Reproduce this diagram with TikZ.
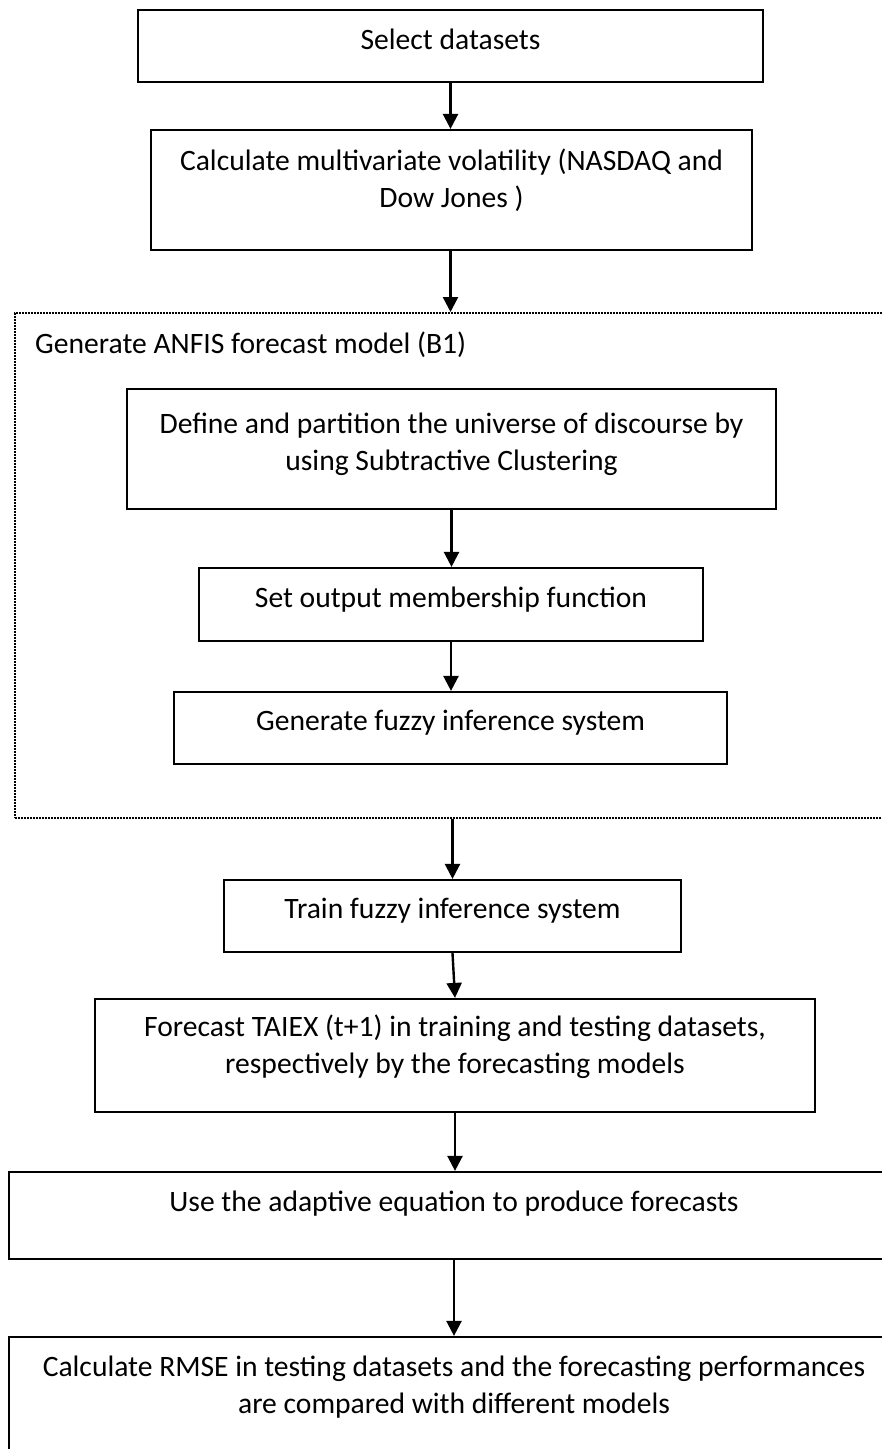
\documentclass[tikz,border=0pt]{standalone}
\usepackage{fontspec}
\setmainfont{Carlito}
\usetikzlibrary{arrows.meta}

\tikzset{
  stepbox/.style={draw, line width=2.2pt, rectangle, align=center,
    inner sep=0pt, text height=20pt, font=\fontsize{29.6}{37}\selectfont},
  twoline/.style={text height=57pt},
  groupbox/.style={draw, line width=2pt, dash pattern=on 1.6pt off 1.4pt},
  flowarrow/.style={-{Triangle[length=15pt,width=15pt]}, line width=2.4pt}
}

\begin{document}
\begin{tikzpicture}[x=1pt, y=-1pt]
  \useasboundingbox (0,0) rectangle (882,1449);
  \clip (0,0) rectangle (882,1449);

  % data preparation
  \node[stepbox, minimum width=625pt, minimum height=72pt, text depth=14pt]
    (select) at (450.5,46) {Select datasets};
  \node[stepbox, twoline, minimum width=601pt, minimum height=120pt, text depth=23pt]
    (volat) at (451.5,190)
    {Calculate multivariate volatility (NASDAQ and\\Dow Jones )};

  % ANFIS model, dotted frame with its inner steps
  \node[groupbox, minimum width=880pt, minimum height=505pt]
    (anfis) at (455,565.5) {};
  \node[anchor=base west, inner sep=0pt, font=\fontsize{29.6}{37}\selectfont]
    (anfislabel) at (35,353) {Generate ANFIS forecast model (B1)};
  \node[stepbox, twoline, minimum width=649pt, minimum height=120pt, text depth=15pt]
    (partition) at (451.5,449)
    {Define and partition the universe of discourse by\\using Subtractive Clustering};
  \node[stepbox, minimum width=504pt, minimum height=73pt, text depth=15pt]
    (outmf) at (451,604.5) {Set output membership function};
  \node[stepbox, minimum width=553pt, minimum height=72pt, text depth=16pt]
    (genfis) at (450.5,728) {Generate fuzzy inference system};

  % training and forecasting
  \node[stepbox, minimum width=457pt, minimum height=72pt, text depth=16pt]
    (train) at (452.5,916) {Train fuzzy inference system};
  \node[stepbox, twoline, minimum width=720pt, minimum height=113pt, text depth=22pt]
    (forecast) at (455,1055.5)
    {Forecast TAIEX (t+1) in training and testing datasets,\\respectively by the forecasting models};
  \node[stepbox, minimum width=890pt, minimum height=87pt, text depth=29pt]
    (adaptive) at (454,1215.5) {Use the adaptive equation to produce forecasts};
  \node[stepbox, twoline, minimum width=890pt, minimum height=118pt, text depth=23pt]
    (rmse) at (454,1396)
    {Calculate RMSE in testing datasets and the forecasting performances\\are compared with different models};

  % connectors
  \draw[flowarrow] (select.south) -- (select.south |- volat.north);
  \draw[flowarrow] (select.south |- volat.south) -- (select.south |- anfis.north);
  \draw[flowarrow] (partition.south) -- (partition.south |- outmf.north);
  \draw[flowarrow] (outmf.south) -- (outmf.south |- genfis.north);
  \draw[flowarrow] (train.north |- anfis.south) -- (train.north);
  \draw[flowarrow] (train.south) -- (forecast.north);
  \draw[flowarrow] (forecast.south) -- (forecast.south |- adaptive.north);
  \draw[flowarrow] (adaptive.south) -- (rmse.north);
\end{tikzpicture}
\end{document}
